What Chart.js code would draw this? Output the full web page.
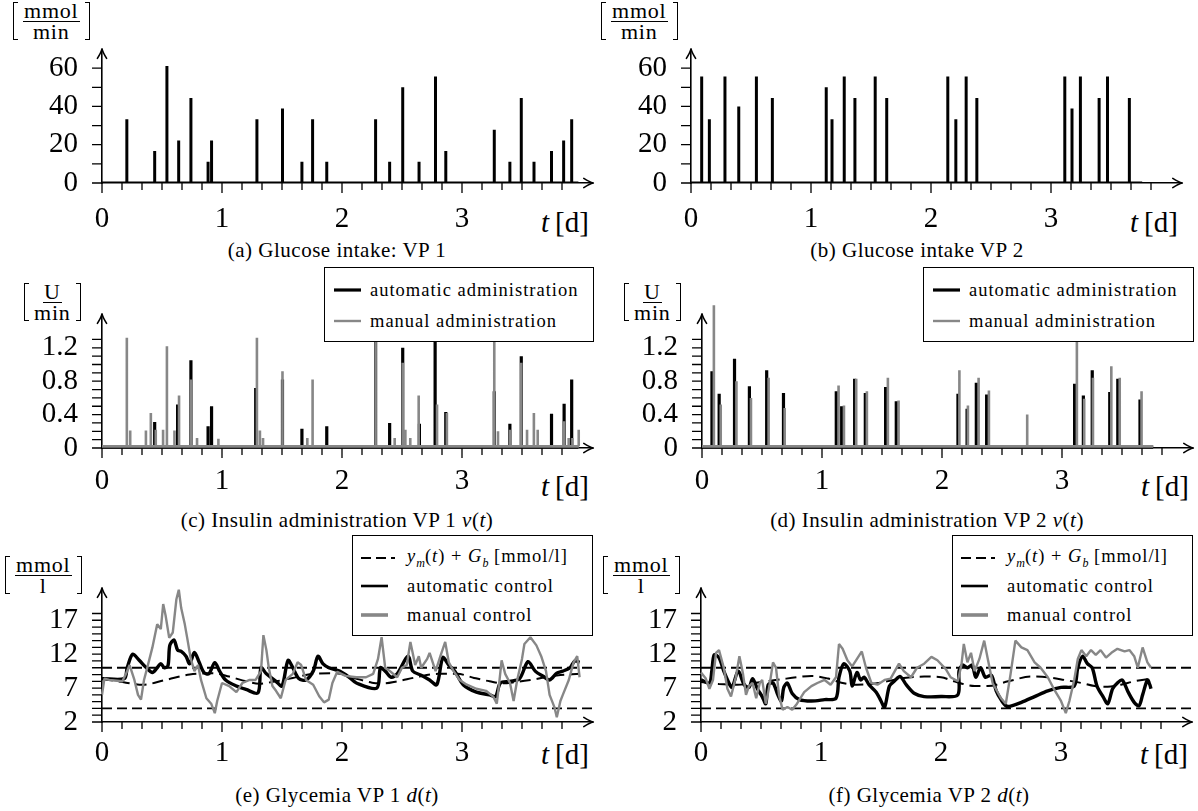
<!DOCTYPE html>
<html>
<head>
<meta charset="utf-8">
<title>Glucose intake, insulin administration and glycemia</title>
<script src="https://cdn.jsdelivr.net/npm/chart.js@4.4.1/dist/chart.umd.min.js"></script>
<style>
  html, body { margin: 0; padding: 0; background: #fff; }
  body { position: relative; width: 1198px; height: 811px; overflow: hidden;
         font-family: "Liberation Serif", "DejaVu Serif", serif; color: #000; }
  canvas { position: absolute; z-index: 1; }
  .cap { position: absolute; font-size: 21px; line-height: 22px; letter-spacing: 0.5px; white-space: nowrap; transform: translateX(-50%); }
  .tlab { position: absolute; font-size: 29px; line-height: 30px; white-space: nowrap; }
  .tlab i { margin-right: 6px; }
  .unit { position: absolute; display: flex; align-items: center; height: 40px; }
  .br { width: 5px; height: 38px; border: 1.2px solid #000; box-sizing: border-box; }
  .br.l { border-right: none; }
  .br.r { border-left: none; }
  .frac { display: flex; flex-direction: column; align-items: center; font-size: 22px; line-height: 18px; margin: 0 5px; letter-spacing: 0.8px; }
  .frac .num { border-bottom: 1.3px solid #000; padding: 0 1px 1px; }
  .frac .den { padding-top: 1px; }
  .legend { position: absolute; background: #fff; border: 1px solid #000; box-sizing: border-box; font-size: 18.5px; letter-spacing: 1px; z-index: 2; }
  .legend .row { position: absolute; display: flex; align-items: center; height: 22px; white-space: nowrap; }
  .legend svg { flex: none; }
  .legend sub { font-size: 12px; letter-spacing: 0; }
</style>
</head>
<body>

<!-- unit labels -->
<div class="unit" style="left:13px;top:1px"><span class="br l"></span><span class="frac"><span class="num">mmol</span><span class="den">min</span></span><span class="br r"></span></div>
<div class="unit" style="left:601px;top:1px"><span class="br l"></span><span class="frac"><span class="num">mmol</span><span class="den">min</span></span><span class="br r"></span></div>
<div class="unit" style="left:24px;top:282px"><span class="br l"></span><span class="frac"><span class="num">U</span><span class="den">min</span></span><span class="br r"></span></div>
<div class="unit" style="left:624px;top:282px"><span class="br l"></span><span class="frac"><span class="num">U</span><span class="den">min</span></span><span class="br r"></span></div>
<div class="unit" style="left:5px;top:555px"><span class="br l"></span><span class="frac"><span class="num">mmol</span><span class="den">l</span></span><span class="br r"></span></div>
<div class="unit" style="left:603px;top:555px"><span class="br l"></span><span class="frac"><span class="num">mmol</span><span class="den">l</span></span><span class="br r"></span></div>

<!-- time axis labels -->
<div class="tlab" style="left:541px;top:207px"><i>t</i>[d]</div>
<div class="tlab" style="left:1130px;top:207px"><i>t</i>[d]</div>
<div class="tlab" style="left:541px;top:471px"><i>t</i>[d]</div>
<div class="tlab" style="left:1141px;top:471px"><i>t</i>[d]</div>
<div class="tlab" style="left:541px;top:739px"><i>t</i>[d]</div>
<div class="tlab" style="left:1140px;top:739px"><i>t</i>[d]</div>

<!-- captions -->
<div class="cap" style="left:337px;top:239px">(a) Glucose intake: VP 1</div>
<div class="cap" style="left:917px;top:239px">(b) Glucose intake VP 2</div>
<div class="cap" style="left:337px;top:509px">(c) Insulin administration VP 1 <i>v</i>(<i>t</i>)</div>
<div class="cap" style="left:927px;top:509px">(d) Insulin administration VP 2 <i>v</i>(<i>t</i>)</div>
<div class="cap" style="left:337px;top:784px">(e) Glycemia VP 1 <i>d</i>(<i>t</i>)</div>
<div class="cap" style="left:929px;top:784px">(f) Glycemia VP 2 <i>d</i>(<i>t</i>)</div>

<!-- legends -->
<div class="legend" style="left:324px;top:267px;width:270px;height:75px">
  <div class="row" style="left:9px;top:11px"><svg width="27" height="8" style="margin-right:9px"><line x1="0" y1="4" x2="27" y2="4" stroke="#000" stroke-width="3.2"/></svg>automatic administration</div>
  <div class="row" style="left:9px;top:42px"><svg width="27" height="8" style="margin-right:9px"><line x1="0" y1="4" x2="27" y2="4" stroke="#878787" stroke-width="2.4"/></svg>manual administration</div>
</div>
<div class="legend" style="left:923px;top:267px;width:271px;height:75px">
  <div class="row" style="left:9px;top:11px"><svg width="27" height="8" style="margin-right:9px"><line x1="0" y1="4" x2="27" y2="4" stroke="#000" stroke-width="3.2"/></svg>automatic administration</div>
  <div class="row" style="left:9px;top:42px"><svg width="27" height="8" style="margin-right:9px"><line x1="0" y1="4" x2="27" y2="4" stroke="#878787" stroke-width="2.4"/></svg>manual administration</div>
</div>
<div class="legend" style="left:352px;top:535px;width:241px;height:101px">
  <div class="row" style="left:8px;top:11px"><svg width="34" height="8" style="margin-right:12px"><line x1="0" y1="4" x2="34" y2="4" stroke="#000" stroke-width="2" stroke-dasharray="10 5"/></svg><span><i>y</i><sub><i>m</i></sub>(<i>t</i>) + <i>G</i><sub><i>b</i></sub> [mmol/l]</span></div>
  <div class="row" style="left:8px;top:39px"><svg width="27" height="8" style="margin-right:19px"><line x1="0" y1="4" x2="27" y2="4" stroke="#000" stroke-width="2.6"/></svg>automatic control</div>
  <div class="row" style="left:8px;top:68px"><svg width="27" height="8" style="margin-right:19px"><line x1="0" y1="4" x2="27" y2="4" stroke="#878787" stroke-width="3.6"/></svg>manual control</div>
</div>
<div class="legend" style="left:952px;top:535px;width:241px;height:101px">
  <div class="row" style="left:8px;top:11px"><svg width="34" height="8" style="margin-right:12px"><line x1="0" y1="4" x2="34" y2="4" stroke="#000" stroke-width="2" stroke-dasharray="10 5"/></svg><span><i>y</i><sub><i>m</i></sub>(<i>t</i>) + <i>G</i><sub><i>b</i></sub> [mmol/l]</span></div>
  <div class="row" style="left:8px;top:39px"><svg width="27" height="8" style="margin-right:19px"><line x1="0" y1="4" x2="27" y2="4" stroke="#000" stroke-width="2.6"/></svg>automatic control</div>
  <div class="row" style="left:8px;top:68px"><svg width="27" height="8" style="margin-right:19px"><line x1="0" y1="4" x2="27" y2="4" stroke="#878787" stroke-width="3.6"/></svg>manual control</div>
</div>

<script>
// tick labels
const dayLabels = [0, 1, 2, 3];
const glucoseLabels = [0, 20, 40, 60];
const insulinLabels = [0, 0.4, 0.8, 1.2];
const glycemiaLabels = [2, 7, 12, 17];
const glycemiaLimits = [4, 10]; // hypo / hyper bounds [mmol/l]

// simulated horizon of each virtual patient [d]
const horizonVP1 = 3.97;
const horizonVP2 = 3.76;

// (a), (b) glucose intake: [t in days, rate in mmol/min]
const mealsVP1 = [[0.207, 33.3], [0.439, 16.7], [0.541, 61.1], [0.639, 22.2], [0.741, 44.4], [0.884, 11.1],
  [0.913, 22.2], [1.291, 33.3], [1.504, 38.9], [1.666, 11.1], [1.755, 33.3], [1.873, 11.1], [2.280, 33.3],
  [2.397, 11.1], [2.506, 50.0], [2.642, 11.1], [2.779, 55.6], [2.865, 16.7], [3.269, 27.8], [3.399, 11.1],
  [3.494, 44.4], [3.600, 11.1], [3.746, 16.7], [3.847, 22.2], [3.914, 33.3]];
const mealsVP2 = [[0.089, 55.6], [0.153, 33.3], [0.283, 55.6], [0.398, 40.0], [0.545, 55.6], [0.678, 44.4],
  [1.127, 50.0], [1.175, 33.3], [1.277, 55.6], [1.366, 44.4], [1.535, 55.6], [1.631, 44.4], [2.140, 55.6],
  [2.207, 33.3], [2.293, 55.6], [2.382, 44.4], [3.115, 55.6], [3.175, 38.9], [3.245, 55.6], [3.401, 44.4],
  [3.471, 55.6], [3.653, 44.4]];

// (c), (d) insulin administration: [t, U/min]
const basalAuto = 0.01;
const basalManual = 0.02;
const insulinAutoVP1 = [[0.439, 0.31], [0.630, 0.52], [0.741, 1.05], [0.884, 0.26], [0.913, 0.50], [1.281, 0.72],
  [1.504, 0.82], [1.666, 0.23], [1.873, 0.26], [2.280, 1.30], [2.397, 0.30], [2.506, 1.20], [2.645, 0.29],
  [2.776, 1.30], [2.865, 0.43], [3.269, 0.68], [3.399, 0.29], [3.494, 1.10], [3.746, 0.41], [3.851, 0.53],
  [3.914, 0.82]];
const insulinManualVP1 = [[0.207, 1.32], [0.235, 0.21], [0.366, 0.21], [0.407, 0.42], [0.448, 0.22], [0.509, 0.22],
  [0.541, 1.22], [0.604, 0.21], [0.642, 0.63], [0.741, 0.82], [0.792, 0.12], [0.970, 0.11], [1.291, 1.32],
  [1.316, 0.21], [1.342, 0.12], [1.504, 0.92], [1.711, 0.12], [1.755, 0.82], [2.280, 1.45], [2.439, 0.12],
  [2.506, 1.02], [2.528, 0.22], [2.569, 0.12], [2.639, 0.63], [2.792, 0.52], [2.874, 0.42], [3.269, 1.45],
  [3.300, 0.20], [3.401, 0.22], [3.494, 1.02], [3.542, 0.22], [3.599, 0.42], [3.631, 0.22], [3.851, 0.32],
  [3.889, 0.12], [3.920, 0.12], [3.974, 0.22]];
const insulinAutoVP2 = [[0.083, 0.92], [0.143, 0.65], [0.271, 1.07], [0.395, 0.74], [0.539, 0.93], [0.679, 0.66],
  [1.119, 0.68], [1.164, 0.50], [1.272, 0.83], [1.361, 0.66], [1.530, 0.73], [1.619, 0.56], [2.133, 0.65],
  [2.209, 0.47], [2.286, 0.78], [2.372, 0.64], [3.105, 0.77], [3.178, 0.63], [3.252, 0.93], [3.398, 0.67],
  [3.465, 0.83], [3.650, 0.58]];
const insulinManualVP2 = [[0.099, 1.71], [0.156, 0.52], [0.287, 0.80], [0.408, 0.60], [0.555, 0.84], [0.689, 0.48],
  [1.138, 0.75], [1.183, 0.51], [1.285, 0.83], [1.374, 0.68], [1.549, 0.84], [1.638, 0.57], [2.145, 0.93],
  [2.216, 0.51], [2.305, 0.84], [2.391, 0.69], [2.710, 0.40], [3.124, 1.30], [3.185, 0.59], [3.258, 0.84],
  [3.411, 0.98], [3.481, 0.84], [3.663, 0.68]];

// (e), (f) glycemia: [t, mmol/l]
const referenceVP1 = [[0, 8.4], [0.2, 7.8], [0.34, 7.5], [0.53, 8.2], [0.73, 9.0], [0.92, 9.2], [1.06, 8.7],
  [1.2, 8.0], [1.31, 7.65], [1.45, 8.0], [1.59, 8.5], [1.76, 9.1], [1.95, 9.2], [2.1, 8.5], [2.25, 7.8],
  [2.35, 7.7], [2.46, 8.0], [2.62, 8.6], [2.8, 9.1], [2.96, 9.1], [3.1, 8.5], [3.23, 8.0], [3.34, 7.7],
  [3.45, 7.9], [3.57, 8.2], [3.79, 8.85], [3.98, 9.1]];
const automaticVP1 = [[0, 8.4], [0.186, 8.4], [0.21, 10.0], [0.255, 12.0], [0.31, 11.1], [0.37, 10.0], [0.42, 9.3],
  [0.46, 10.0], [0.49, 10.6], [0.52, 10.0], [0.55, 10.3], [0.565, 13.3], [0.60, 14.1], [0.63, 12.6], [0.66, 12.4],
  [0.70, 11.7], [0.73, 10.6], [0.77, 12.25], [0.81, 10.8], [0.85, 9.3], [0.89, 9.1], [0.94, 10.75], [0.98, 9.5],
  [1.03, 8.2], [1.12, 7.3], [1.2, 6.8], [1.30, 6.3], [1.325, 10.0], [1.37, 9.1], [1.45, 8.0], [1.5, 7.3],
  [1.55, 11.1], [1.59, 10.0], [1.64, 8.4], [1.7, 8.2], [1.76, 9.5], [1.8, 11.7], [1.84, 10.6], [1.89, 10.0],
  [1.98, 9.5], [2.06, 8.6], [2.12, 7.75], [2.29, 7.0], [2.32, 10.0], [2.36, 9.5], [2.41, 8.6], [2.46, 9.1],
  [2.55, 11.7], [2.59, 9.5], [2.66, 8.9], [2.73, 8.2], [2.79, 7.5], [2.84, 11.5], [2.89, 10.4], [2.94, 9.5],
  [3.01, 7.5], [3.12, 6.4], [3.23, 6.0], [3.28, 5.75], [3.32, 7.75], [3.4, 8.0], [3.48, 8.4], [3.55, 10.9],
  [3.61, 9.5], [3.68, 8.7], [3.73, 8.2], [3.79, 9.2], [3.84, 9.5], [3.9, 10.0], [3.94, 11.0], [3.98, 10.8]];
const manualVP1 = [[0, 6.0], [0.02, 8.4], [0.06, 8.2], [0.17, 8.0], [0.2, 9.1], [0.23, 10.4], [0.27, 8.2],
  [0.30, 6.0], [0.325, 5.3], [0.35, 8.2], [0.38, 10.2], [0.42, 13.0], [0.46, 16.4], [0.49, 15.7], [0.51, 19.4],
  [0.53, 17.7], [0.56, 14.4], [0.59, 15.2], [0.62, 20.1], [0.64, 21.5], [0.66, 18.8], [0.69, 16.4], [0.71, 14.4],
  [0.74, 11.3], [0.77, 9.5], [0.80, 10.4], [0.825, 8.2], [0.87, 5.5], [0.91, 4.7], [0.94, 3.3], [0.96, 5.1],
  [1.0, 7.75], [1.06, 7.3], [1.12, 6.4], [1.17, 7.75], [1.23, 8.2], [1.28, 8.2], [1.325, 9.5], [1.345, 14.8],
  [1.37, 12.6], [1.39, 10.0], [1.42, 7.3], [1.45, 6.6], [1.49, 5.5], [1.53, 8.2], [1.59, 9.1], [1.63, 10.8],
  [1.66, 10.4], [1.7, 8.2], [1.76, 7.5], [1.81, 5.8], [1.85, 4.9], [1.89, 5.3], [1.92, 7.75], [1.96, 9.4],
  [2.03, 8.8], [2.12, 8.6], [2.2, 8.6], [2.26, 9.1], [2.30, 11.3], [2.33, 14.5], [2.36, 10.0], [2.4, 9.5],
  [2.46, 8.6], [2.5, 10.0], [2.54, 10.4], [2.57, 13.8], [2.61, 10.4], [2.64, 11.7], [2.66, 10.0], [2.71, 11.3],
  [2.73, 12.2], [2.78, 9.5], [2.82, 11.7], [2.86, 13.8], [2.89, 10.8], [2.93, 9.5], [2.98, 8.2], [3.04, 7.5],
  [3.12, 6.9], [3.2, 6.6], [3.26, 5.75], [3.29, 4.7], [3.31, 7.75], [3.33, 11.1], [3.36, 9.1], [3.4, 7.75],
  [3.43, 5.1], [3.46, 8.2], [3.5, 11.3], [3.52, 13.5], [3.57, 14.5], [3.62, 13.3], [3.66, 11.7], [3.7, 9.5],
  [3.73, 6.0], [3.77, 4.2], [3.79, 2.7], [3.82, 5.1], [3.84, 6.0], [3.89, 8.2], [3.93, 10.8], [3.96, 11.7],
  [3.98, 8.6]];

const referenceVP2 = [[0, 7.9], [0.15, 7.6], [0.3, 7.5], [0.5, 7.9], [0.67, 8.3], [0.8, 8.6], [0.92, 8.8],
  [1.06, 8.4], [1.17, 7.8], [1.3, 7.5], [1.42, 7.6], [1.55, 8.0], [1.69, 8.5], [1.86, 8.7], [2.0, 8.6],
  [2.11, 8.0], [2.28, 7.3], [2.39, 7.3], [2.56, 8.0], [2.75, 8.7], [2.89, 8.6], [3.03, 8.2], [3.17, 7.75],
  [3.28, 7.3], [3.39, 7.2], [3.5, 7.5], [3.61, 8.0], [3.75, 8.4]];
const automaticVP2 = [[0, 8.2], [0.07, 7.75], [0.09, 9.5], [0.11, 11.9], [0.15, 11.5], [0.19, 9.5], [0.24, 7.5],
  [0.26, 7.1], [0.31, 9.5], [0.36, 7.5], [0.40, 7.1], [0.43, 8.4], [0.47, 6.9], [0.51, 5.75], [0.54, 4.7],
  [0.56, 7.5], [0.6, 7.75], [0.64, 6.0], [0.67, 5.1], [0.69, 7.1], [0.72, 7.75], [0.76, 6.2], [0.82, 5.3],
  [0.92, 5.1], [1.03, 5.3], [1.125, 5.5], [1.15, 8.6], [1.19, 10.6], [1.24, 9.5], [1.26, 7.3], [1.3, 9.3],
  [1.33, 8.2], [1.36, 8.6], [1.4, 7.5], [1.46, 6.4], [1.5, 5.1], [1.53, 4.2], [1.57, 7.3], [1.61, 8.0],
  [1.66, 8.7], [1.71, 7.5], [1.78, 6.2], [1.86, 5.75], [2.0, 5.75], [2.14, 6.0], [2.15, 9.5], [2.18, 10.4],
  [2.22, 10.0], [2.26, 10.4], [2.29, 8.6], [2.33, 10.0], [2.37, 8.6], [2.42, 8.9], [2.46, 6.6], [2.5, 5.3],
  [2.54, 4.4], [2.58, 4.35], [2.67, 4.9], [2.78, 5.75], [2.89, 6.6], [3.0, 7.1], [3.11, 7.3], [3.14, 10.0],
  [3.18, 11.7], [3.22, 10.6], [3.26, 10.0], [3.3, 7.3], [3.35, 5.75], [3.39, 4.7], [3.43, 6.9], [3.47, 7.75],
  [3.51, 8.2], [3.56, 6.4], [3.61, 4.9], [3.65, 4.4], [3.68, 6.0], [3.72, 8.2], [3.74, 7.5], [3.75, 6.9]];
const manualVP2 = [[0, 9.3], [0.04, 8.4], [0.07, 6.9], [0.1, 8.2], [0.125, 12.2], [0.15, 12.6], [0.19, 10.0],
  [0.22, 6.9], [0.25, 5.75], [0.29, 8.6], [0.32, 11.7], [0.35, 9.1], [0.375, 6.0], [0.4, 7.3], [0.43, 7.75],
  [0.46, 5.5], [0.49, 7.75], [0.51, 8.2], [0.54, 4.7], [0.57, 7.3], [0.6, 10.8], [0.625, 10.0], [0.65, 6.0],
  [0.68, 3.8], [0.72, 4.2], [0.76, 3.8], [0.8, 4.7], [0.86, 6.4], [0.92, 7.3], [0.97, 7.75], [1.03, 8.2],
  [1.08, 7.5], [1.125, 8.6], [1.15, 13.5], [1.18, 12.8], [1.22, 11.1], [1.26, 10.2], [1.3, 11.3], [1.34, 12.4],
  [1.375, 10.0], [1.42, 7.75], [1.47, 7.5], [1.53, 8.2], [1.58, 8.4], [1.65, 10.6], [1.69, 9.5], [1.75, 8.6],
  [1.8, 10.0], [1.86, 10.6], [1.92, 11.6], [1.97, 11.1], [2.04, 9.8], [2.08, 8.6], [2.14, 8.0], [2.17, 10.4],
  [2.19, 13.5], [2.22, 10.8], [2.25, 12.2], [2.28, 9.5], [2.32, 11.3], [2.36, 14.0], [2.39, 11.3], [2.43, 7.75],
  [2.5, 5.5], [2.54, 4.7], [2.58, 9.1], [2.62, 14.0], [2.67, 13.0], [2.72, 12.6], [2.78, 10.8], [2.83, 10.0],
  [2.89, 8.6], [2.94, 6.9], [3.0, 5.1], [3.04, 3.3], [3.07, 5.1], [3.11, 8.2], [3.14, 11.3], [3.17, 12.6],
  [3.21, 11.7], [3.25, 12.6], [3.29, 11.9], [3.33, 12.6], [3.375, 11.5], [3.42, 12.2], [3.47, 12.8],
  [3.53, 12.4], [3.57, 12.6], [3.61, 11.7], [3.64, 10.0], [3.68, 13.0], [3.72, 10.8], [3.75, 10.0]];

const GRAY = '#878787';
const X_MAX = 4.09;        // time axis runs on to the arrow tip
const X_LAST_TICK = 3.84;  // last minor tick (23/6 d)
const PX_PER_DAY = 120;
const Y_AXIS_W = 102;
const CANVAS_W = 598, CANVAS_H = 225, PAD_TOP = 25, X_AXIS_H = 50;
const TICK_FONT = { family: '"Liberation Serif", serif', size: 29 };

const toXY = pairs => pairs.map(([x, y]) => ({ x, y }));

// pulse trains: baseline with a thin vertical spike at every event
function spikeTrace(pairs, base, end) {
  const pts = [{ x: 0, y: base }];
  pairs.forEach(([t, v]) => pts.push({ x: t, y: base }, { x: t, y: v }, { x: t, y: base }));
  pts.push({ x: end, y: base });
  return pts;
}

function labelFor(list) {
  return v => {
    const m = list.find(l => Math.abs(l - v) < 1e-6);
    return m === undefined ? '' : String(m);
  };
}

function arrowHead(ctx, x, y, angle) {
  ctx.save();
  ctx.translate(x, y);
  ctx.rotate(angle);
  ctx.lineWidth = 1.6;
  ctx.lineCap = 'round';
  ctx.lineJoin = 'round';
  ctx.beginPath();
  ctx.moveTo(-9, -4.6);
  ctx.quadraticCurveTo(-3, -0.8, 0.5, 0);
  ctx.quadraticCurveTo(-3, 0.8, -9, 4.6);
  ctx.stroke();
  ctx.restore();
}

// tick marks (long at labelled days) and arrow heads
const axisMarks = {
  id: 'axisMarks',
  afterDraw(chart) {
    const { ctx, chartArea: a, scales: { x, y } } = chart;
    ctx.save();
    ctx.strokeStyle = '#000';
    ctx.lineWidth = 1.3;
    ctx.beginPath();
    x.ticks.forEach(t => {
      const px = x.getPixelForValue(t.value);
      const len = t.label !== '' ? 10 : 7;
      ctx.moveTo(px, a.bottom);
      ctx.lineTo(px, a.bottom + len);
    });
    y.ticks.forEach(t => {
      const py = y.getPixelForValue(t.value);
      ctx.moveTo(a.left, py);
      ctx.lineTo(a.left - 10, py);
    });
    ctx.stroke();
    arrowHead(ctx, a.right, a.bottom, 0);
    arrowHead(ctx, a.left, a.top, -Math.PI / 2);
    ctx.restore();
  }
};

function makePanel(p) {
  const canvas = document.createElement('canvas');
  canvas.width = CANVAS_W;
  canvas.height = CANVAS_H;
  canvas.style.left = (p.areaLeft - Y_AXIS_W) + 'px';
  canvas.style.top = (p.areaTop - PAD_TOP) + 'px';
  document.body.appendChild(canvas);

  new Chart(canvas, {
    type: 'line',
    data: { datasets: p.datasets },
    options: {
      responsive: false,
      animation: false,
      events: [],
      layout: { padding: { left: 0, top: PAD_TOP, right: CANVAS_W - Y_AXIS_W - X_MAX * PX_PER_DAY, bottom: 0 } },
      plugins: { legend: { display: false }, tooltip: { enabled: false } },
      elements: { point: { radius: 0 }, line: { tension: 0, borderJoinStyle: 'bevel', borderCapStyle: 'butt' } },
      scales: {
        x: {
          type: 'linear', min: 0, max: X_MAX,
          afterBuildTicks: s => { s.ticks = s.ticks.filter(t => t.value <= X_LAST_TICK); },
          afterFit: s => { s.height = X_AXIS_H; },
          ticks: { stepSize: 1 / 6, includeBounds: false, autoSkip: false, maxRotation: 0,
                   padding: p.xPad, color: '#000', font: TICK_FONT, callback: labelFor(dayLabels) },
          grid: { display: false, drawTicks: false },
          border: { display: true, color: '#000', width: 1.6 }
        },
        y: {
          type: 'linear', min: p.yMin, max: p.yMax,
          afterBuildTicks: s => { s.ticks = s.ticks.filter(t => t.value <= p.yLast + 1e-6); },
          afterFit: s => { s.width = Y_AXIS_W; },
          ticks: { stepSize: p.yStep, includeBounds: false, autoSkip: false,
                   padding: 24, color: '#000', font: TICK_FONT, callback: labelFor(p.yLabels) },
          grid: { display: false, drawTicks: false },
          border: { display: true, color: '#000', width: 1.6 }
        }
      }
    },
    plugins: [axisMarks]
  });
}

const limitLines = () => glycemiaLimits.map(v => ({
  data: [{ x: 0, y: v }, { x: X_MAX, y: v }],
  borderColor: '#000', borderWidth: 1.8, borderDash: [10, 5], order: 3
}));

function glycemiaSets(ref, auto, manual) {
  return [
    { data: toXY(manual), borderColor: GRAY, borderWidth: 2.4, order: 0, clip: false },
    { data: toXY(auto), borderColor: '#000', borderWidth: 3.4, order: 1, tension: 0.3 },
    { data: toXY(ref), borderColor: '#000', borderWidth: 2, borderDash: [11, 6], order: 2,
      cubicInterpolationMode: 'monotone' },
    ...limitLines()
  ];
}

const glucoseAxis = { yMin: 0, yMax: 69.8, yStep: 10, yLast: 60, yLabels: glucoseLabels };
const insulinAxis = { yMin: 0, yMax: 1.6, yStep: 0.1, yLast: 1.3, yLabels: insulinLabels };
const glycemiaAxis = { yMin: 2, yMax: 21.7, yStep: 1, yLast: 18, yLabels: glycemiaLabels };

const panels = [
  { areaLeft: 102, areaTop: 33, xPad: 19, ...glucoseAxis,
    datasets: [{ data: spikeTrace(mealsVP1, 0, horizonVP1), borderColor: '#000', borderWidth: 3 }] },
  { areaLeft: 691, areaTop: 33, xPad: 19, ...glucoseAxis,
    datasets: [{ data: spikeTrace(mealsVP2, 0, horizonVP2), borderColor: '#000', borderWidth: 3 }] },
  { areaLeft: 102, areaTop: 298, xPad: 16, ...insulinAxis,
    datasets: [
      { data: spikeTrace(insulinManualVP1, basalManual, horizonVP1), borderColor: GRAY, borderWidth: 2.6, order: 0, clip: false },
      { data: spikeTrace(insulinAutoVP1, basalAuto, horizonVP1), borderColor: '#000', borderWidth: 3.2, order: 1, clip: false }
    ] },
  { areaLeft: 702, areaTop: 298, xPad: 16, ...insulinAxis,
    datasets: [
      { data: spikeTrace(insulinManualVP2, basalManual, horizonVP2), borderColor: GRAY, borderWidth: 2.6, order: 0, clip: false },
      { data: spikeTrace(insulinAutoVP2, basalAuto, horizonVP2), borderColor: '#000', borderWidth: 3.2, order: 1, clip: false }
    ] },
  { areaLeft: 102, areaTop: 572, xPad: 14, ...glycemiaAxis,
    datasets: glycemiaSets(referenceVP1, automaticVP1, manualVP1) },
  { areaLeft: 701, areaTop: 572, xPad: 14, ...glycemiaAxis,
    datasets: glycemiaSets(referenceVP2, automaticVP2, manualVP2) }
];

panels.forEach(makePanel);
</script>
</body>
</html>
